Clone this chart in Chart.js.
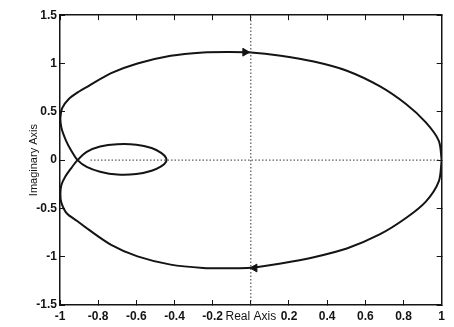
<!DOCTYPE html>
<html>
<head>
<meta charset="utf-8">
<script src="https://cdn.jsdelivr.net/npm/chart.js@4.4.1/dist/chart.umd.min.js"></script>
<style>
  html, body { margin: 0; padding: 0; background: #fff; }
  canvas { display: block; }
</style>
</head>
<body>
<canvas id="nyquist-chart" width="454" height="327"></canvas>
<script>
// nyquist curve (real, imag)
var curveRe = [1.0, 0.985, 0.917, 0.813, 0.675, 0.503, 0.33, 0.157, 0.0, -0.12, -0.25, -0.42, -0.594, -0.732, -0.853, -0.90, -0.955, -0.988, -0.998, -0.992, -0.968, -0.94,
  -0.908, -0.86, -0.79, -0.70, -0.60, -0.52, -0.47, -0.445, -0.445, -0.47, -0.52, -0.60, -0.70, -0.79, -0.86, -0.908,
  -0.94, -0.972, -0.993, -0.998, -0.993, -0.965, -0.91, -0.853, -0.732, -0.594, -0.42, -0.25, -0.12, 0.0, 0.157, 0.33, 0.503, 0.675, 0.813, 0.917, 0.985, 1.0];
var curveIm = [0.0, 0.20, 0.39, 0.58, 0.765, 0.925, 1.02, 1.08, 1.115, 1.12, 1.115, 1.08, 1.0, 0.90, 0.764, 0.71, 0.63, 0.54, 0.44, 0.33, 0.20, 0.095,
  0.0, -0.07, -0.12, -0.15, -0.145, -0.11, -0.065, -0.02, 0.025, 0.075, 0.125, 0.16, 0.165, 0.14, 0.085, 0.0,
  -0.08, -0.17, -0.26, -0.35, -0.44, -0.55, -0.63, -0.715, -0.877, -0.997, -1.082, -1.116, -1.12, -1.115, -1.07, -1.005, -0.915, -0.77, -0.60, -0.43, -0.22, 0.0];

// direction arrows
var arrowRe = [-0.03, 0.02];
var arrowIm = [1.117, -1.117];
var arrowRot = [90, -90];

// dotted axis lines
var hLineRe = [-0.84, 1.0];
var hLineIm = [0, 0];
var vLineRe = [0, 0];
var vLineIm = [-1.5, 1.5];

var xTicks = [-1, -0.8, -0.6, -0.4, -0.2, 0, 0.2, 0.4, 0.6, 0.8, 1];
var yTicks = [-1.5, -1, -0.5, 0, 0.5, 1, 1.5];

function toPoints(xs, ys) {
    var pts = [];
    for (var i = 0; i < xs.length; i++) {
        pts.push({x: xs[i], y: ys[i]});
    }
    return pts;
}

var ink = '#141414';
var tickFont = {family: "'Liberation Sans', Arial, sans-serif", size: 12, weight: 'bold'};

function axisGrid() {
    return {display: true, drawOnChartArea: false, drawTicks: true, tickLength: -5, color: ink, lineWidth: 1};
}

var configNyquist = {
    type: 'scatter',
    data: {
        datasets: [
            {
                data: toPoints(hLineRe, hLineIm),
                showLine: true,
                borderColor: '#333',
                borderWidth: 1,
                borderDash: [1.5, 2],
                pointRadius: 0
            }, {
                data: toPoints(vLineRe, vLineIm),
                showLine: true,
                borderColor: '#333',
                borderWidth: 1,
                borderDash: [1.5, 2],
                pointRadius: 0
            }, {
                data: toPoints(curveRe, curveIm),
                showLine: true,
                borderColor: ink,
                borderWidth: 2,
                tension: 0.3,
                pointRadius: 0
            }, {
                data: toPoints(arrowRe, arrowIm),
                pointStyle: 'triangle',
                rotation: arrowRot,
                pointRadius: 4.5,
                backgroundColor: ink,
                borderColor: ink,
                borderWidth: 1
            }
        ]
    },
    options: {
        responsive: false,
        animation: false,
        layout: {padding: {top: 14, right: 8, left: 0, bottom: 0}},
        plugins: {
            legend: {display: false},
            tooltip: {enabled: false},
            title: {display: false}
        },
        scales: {
            x: {
                type: 'linear',
                position: 'bottom',
                min: -1,
                max: 1,
                afterBuildTicks: function (scale) {
                    scale.ticks = xTicks.map(function (v) { return {value: v}; });
                },
                afterFit: function (scale) { scale.height = 22; },
                ticks: {
                    color: ink,
                    font: tickFont,
                    padding: 9,
                    maxRotation: 0,
                    autoSkip: false,
                    callback: function (v) { return v === 0 ? '' : String(v); }
                },
                grid: axisGrid(),
                border: {display: true, color: ink, width: 1.5},
                title: {
                    display: true,
                    text: 'Real Axis',
                    color: ink,
                    font: {family: "'Liberation Sans', Arial, sans-serif", size: 12},
                    padding: {top: 0, bottom: 3}
                }
            },
            y: {
                type: 'linear',
                position: 'left',
                min: -1.5,
                max: 1.5,
                afterBuildTicks: function (scale) {
                    scale.ticks = yTicks.map(function (v) { return {value: v}; });
                },
                afterFit: function (scale) { scale.width = 60; },
                ticks: {
                    color: ink,
                    font: tickFont,
                    padding: 8,
                    callback: function (v) { return String(v); }
                },
                grid: axisGrid(),
                border: {display: true, color: ink, width: 1.5},
                title: {
                    display: true,
                    text: 'Imaginary Axis',
                    color: ink,
                    font: {family: "'Liberation Sans', Arial, sans-serif", size: 11},
                    padding: {top: 27, bottom: 0}
                }
            },
            x2: {
                type: 'linear',
                position: 'top',
                min: -1,
                max: 1,
                afterBuildTicks: function (scale) {
                    scale.ticks = xTicks.map(function (v) { return {value: v}; });
                },
                afterFit: function (scale) { scale.height = 0; },
                ticks: {display: false},
                grid: axisGrid(),
                border: {display: true, color: ink, width: 1.5}
            },
            y2: {
                type: 'linear',
                position: 'right',
                min: -1.5,
                max: 1.5,
                afterBuildTicks: function (scale) {
                    scale.ticks = yTicks.map(function (v) { return {value: v}; });
                },
                afterFit: function (scale) { scale.width = 0; },
                ticks: {display: false},
                grid: axisGrid(),
                border: {display: true, color: ink, width: 1.5}
            }
        }
    }
};

var ctxNyquist = document.getElementById("nyquist-chart").getContext("2d");
var nyquistChart = new Chart(ctxNyquist, configNyquist);
</script>
</body>
</html>
